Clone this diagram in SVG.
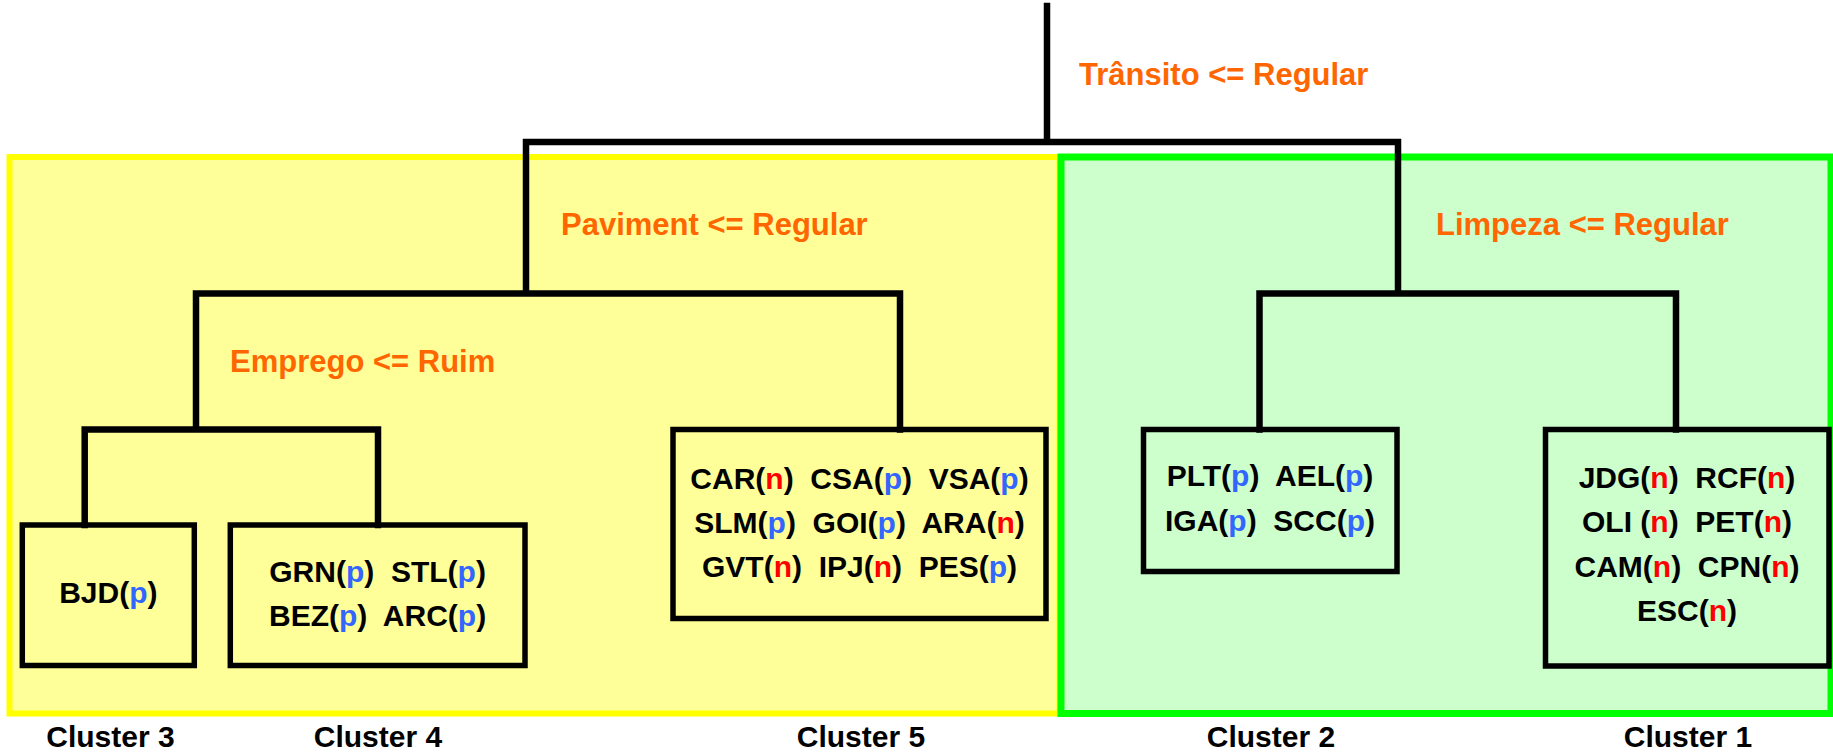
<svg xmlns="http://www.w3.org/2000/svg" width="1833" height="752" viewBox="0 0 1833 752" xml:space="preserve">
<style>
text{font-family:"Liberation Sans",Arial,Helvetica,sans-serif;font-weight:bold;font-size:30px;fill:#000;white-space:pre}
.cond{fill:#FF6600;font-size:31px}
.mid{text-anchor:middle}
.p{fill:#3366FF}
.n{fill:#FF0000}
.box{stroke:#000;stroke-width:5.5;fill:none}
.link{stroke:#000;stroke-width:6.5;fill:none;stroke-linecap:square}
</style>
<rect width="1833" height="752" fill="#fff"/>
<g id="region-yellow"><rect x="9.5" y="157" width="1050" height="556.5" fill="#FFFF99" stroke="#FFFF00" stroke-width="6"/></g>
<g id="region-green"><rect x="1061" y="157" width="770" height="556.5" fill="#CCFFCC" stroke="#00FF00" stroke-width="7"/></g>
<g id="connectors">
<path class="link" d="M1047 6V142M526 142H1398M526 142V293.5M1398 142V293.5M196 293.5H900M196 293.5V429.5M900 293.5V429.5M1259.5 293.5H1676M1259.5 293.5V429.5M1676 293.5V429.5M84.7 429.5H378M84.7 429.5V525M378 429.5V525"/>
</g>
<g id="split-transito"><text class="cond" x="1079" y="85">Trânsito &lt;= Regular</text></g>
<g id="split-paviment"><text class="cond" x="561" y="235">Paviment &lt;= Regular</text></g>
<g id="split-limpeza"><text class="cond" x="1436" y="235">Limpeza &lt;= Regular</text></g>
<g id="split-emprego"><text class="cond" x="230" y="372">Emprego &lt;= Ruim</text></g>
<g id="cluster3">
<rect class="box" x="22.3" y="525" width="172" height="140.5" fill="#FFFF99"/>
<text class="mid" x="108.3" y="603">BJD(<tspan class="p">p</tspan>)</text>
</g>
<g id="cluster4">
<rect class="box" x="230.3" y="525" width="294.7" height="140.5" fill="#FFFF99"/>
<text class="mid" x="377.6" y="582">GRN(<tspan class="p">p</tspan>)  STL(<tspan class="p">p</tspan>)</text>
<text class="mid" x="377.6" y="626">BEZ(<tspan class="p">p</tspan>)  ARC(<tspan class="p">p</tspan>)</text>
</g>
<g id="cluster5">
<rect class="box" x="673" y="429.5" width="373" height="189" fill="#FFFF99"/>
<text class="mid" x="859.5" y="489">CAR(<tspan class="n">n</tspan>)  CSA(<tspan class="p">p</tspan>)  VSA(<tspan class="p">p</tspan>)</text>
<text class="mid" x="859.5" y="533">SLM(<tspan class="p">p</tspan>)  GOI(<tspan class="p">p</tspan>)  ARA(<tspan class="n">n</tspan>)</text>
<text class="mid" x="859.5" y="577">GVT(<tspan class="n">n</tspan>)  IPJ(<tspan class="n">n</tspan>)  PES(<tspan class="p">p</tspan>)</text>
</g>
<g id="cluster2">
<rect class="box" x="1143.5" y="429.5" width="253.5" height="142" fill="#CCFFCC"/>
<text class="mid" x="1270" y="486">PLT(<tspan class="p">p</tspan>)  AEL(<tspan class="p">p</tspan>)</text>
<text class="mid" x="1270" y="531">IGA(<tspan class="p">p</tspan>)  SCC(<tspan class="p">p</tspan>)</text>
</g>
<g id="cluster1">
<rect class="box" x="1545.5" y="429.5" width="283.5" height="236.5" fill="#CCFFCC"/>
<text class="mid" x="1687" y="488">JDG(<tspan class="n">n</tspan>)  RCF(<tspan class="n">n</tspan>)</text>
<text class="mid" x="1687" y="532">OLI (<tspan class="n">n</tspan>)  PET(<tspan class="n">n</tspan>)</text>
<text class="mid" x="1687" y="577">CAM(<tspan class="n">n</tspan>)  CPN(<tspan class="n">n</tspan>)</text>
<text class="mid" x="1687" y="621">ESC(<tspan class="n">n</tspan>)</text>
</g>
<g id="labels">
<text class="mid" x="110.5" y="747">Cluster 3</text>
<text class="mid" x="378" y="747">Cluster 4</text>
<text class="mid" x="861" y="747">Cluster 5</text>
<text class="mid" x="1271" y="747">Cluster 2</text>
<text class="mid" x="1688" y="747">Cluster 1</text>
</g>
</svg>
